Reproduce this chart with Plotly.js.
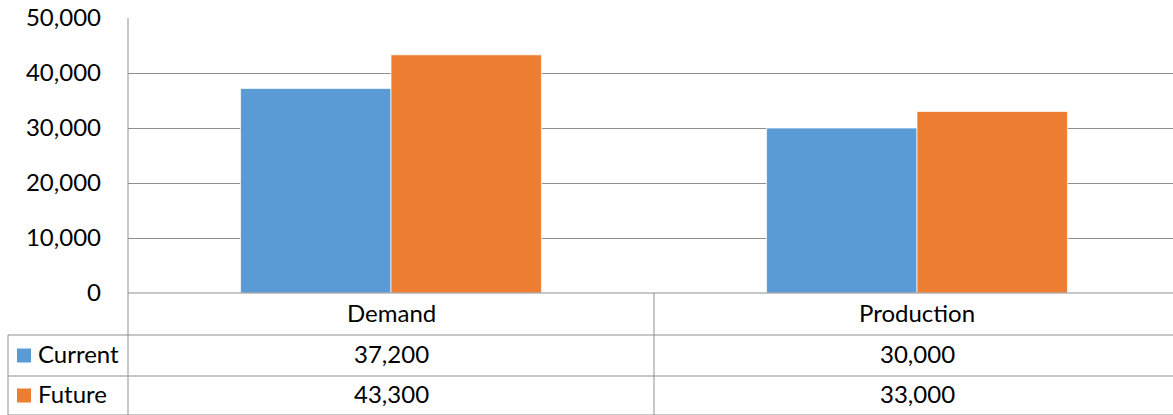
<!DOCTYPE html>
<html>
<head>
<meta charset="utf-8">
<script src="https://cdn.plot.ly/plotly-3.0.1.min.js"></script>
<style>html,body{margin:0;padding:0;background:#fff;}#chart{width:1173px;height:415px;}</style>
</head>
<body>
<div id="chart"></div>
<script>
const categories = ["Demand", "Production"];
const seriesNames = ["Current", "Future"];
const currentValues = [37200, 30000];
const futureValues = [43300, 33000];
const seriesColors = ["#5B9BD5", "#ED7D31"];
const yTicks = [0, 10000, 20000, 30000, 40000, 50000];

const W = 1173, H = 415, ML = 128, MR = 0, MT = 18, MB = 122;
const PW = W - ML - MR, PH = H - MT - MB;
const CATW = 526; // pixel width of one category band
const px = x => (x - ML) / PW;
const py = y => (H - MB - y) / PH;
const fmt = v => v.toLocaleString('en-US');
const FONT = 'Lato, "Noto Sans", sans-serif';
const FS = 24;
const lineCol = '#8f8f8f';

const seriesValues = [currentValues, futureValues];
const traces = seriesNames.map((name, i) => ({
  type: 'bar', name: name, x: categories, y: seriesValues[i],
  marker: {color: seriesColors[i], line: {color: 'rgba(255,255,255,0.7)', width: 1}},
  hoverinfo: 'skip'
}));

const shapes = [];
function hline(x0, x1, y) { shapes.push({type:'line', xref:'paper', yref:'paper', x0:px(x0), x1:px(x1), y0:py(y), y1:py(y), line:{color:lineCol, width:1}}); }
function vline(x, y0, y1) { shapes.push({type:'line', xref:'paper', yref:'paper', x0:px(x), x1:px(x), y0:py(y0), y1:py(y1), line:{color:lineCol, width:1}}); }
hline(128, 1173, 293);
hline(8, 1173, 335);
hline(8, 1173, 376);
hline(8, 1173, 415);
vline(8, 335, 415);
vline(128, 18, 415);
vline(654, 293, 415);

const rowCenters = [355.5, 395.5];
const TXT_SHIFT = -2;
const annotations = [];
const tf = {family: FONT, size: FS, color: '#000'};
categories.forEach(c => annotations.push({xref:'x', yref:'paper', x:c, y:py(314 + TXT_SHIFT), text:c, showarrow:false, xanchor:'center', yanchor:'middle', font:tf}));
seriesNames.forEach((name, i) => {
  const yc = rowCenters[i];
  shapes.push({type:'rect', xref:'paper', yref:'paper', x0:px(17), x1:px(31), y0:py(yc-7), y1:py(yc+7), fillcolor:seriesColors[i], line:{width:0}});
  annotations.push({xref:'paper', yref:'paper', x:px(36), y:py(yc + TXT_SHIFT), text:name, showarrow:false, xanchor:'left', yanchor:'middle', font:tf});
  categories.forEach((c, j) => annotations.push({xref:'x', yref:'paper', x:c, y:py(yc + TXT_SHIFT), text:fmt(seriesValues[i][j]), showarrow:false, xanchor:'center', yanchor:'middle', font:tf}));
});

const layout = {
  width: W, height: H,
  margin: {l: ML, r: MR, t: MT, b: MB, pad: 0},
  paper_bgcolor: '#fff', plot_bgcolor: '#fff',
  barmode: 'group', bargap: 0.428, bargroupgap: 0,
  showlegend: false,
  font: tf,
  xaxis: {range: [-0.5, -0.5 + PW / CATW], showticklabels: false, showgrid: false, zeroline: false, showline: false, ticks: '', fixedrange: true},
  yaxis: {range: [0, 50000], tickvals: yTicks, ticktext: yTicks.map(fmt), showgrid: true, gridcolor: lineCol, gridwidth: 1, zeroline: false, showline: false, ticks: '', ticklabelstandoff: 26, tickfont: tf, fixedrange: true},
  shapes: shapes,
  annotations: annotations
};
Plotly.newPlot('chart', traces, layout, {displayModeBar: false, staticPlot: true});
</script>
</body>
</html>
